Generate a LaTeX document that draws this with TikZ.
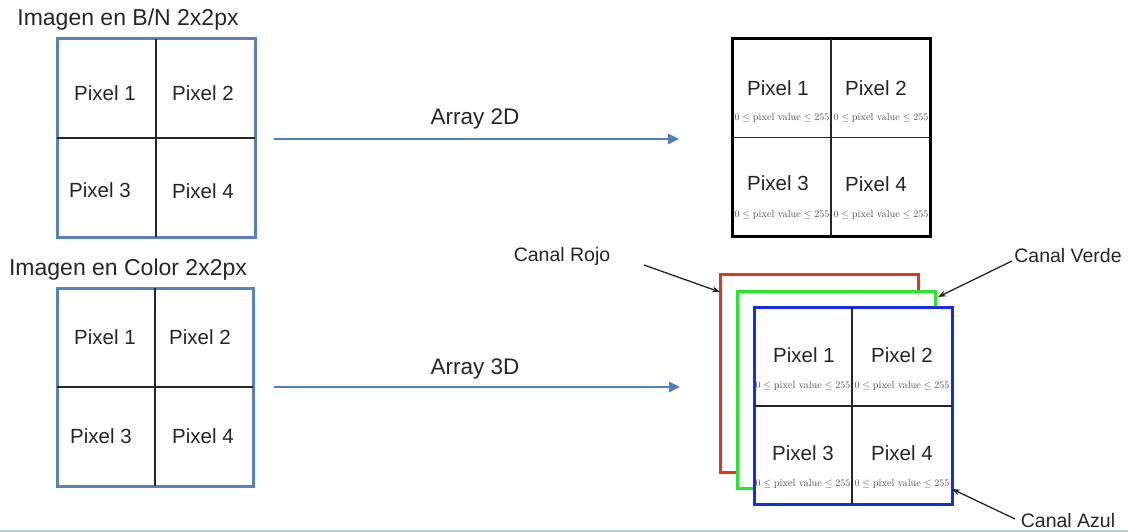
\documentclass[tikz,border=0pt]{standalone}
\usepackage{fontspec}
\newfontfamily\arial{Liberation Sans}
\usetikzlibrary{arrows.meta}

\definecolor{frameblue}{RGB}{92,128,186}
\definecolor{flowblue}{RGB}{82,124,188}
\definecolor{chred}{RGB}{232,52,30}
\definecolor{chgreen}{RGB}{40,230,40}
\definecolor{chblue}{RGB}{24,44,228}
\definecolor{rule}{RGB}{176,204,214}

\newcommand{\pixval}{$0\leq\mbox{pixel value}\leq255$}

\begin{document}
\begin{tikzpicture}[x=1pt,y=-1pt,
  grid/.style={draw, fill=white, inner sep=0pt, outer sep=0pt, line width=3pt},
  divider/.style={draw=black!85, line width=1.4pt},
  lbl/.style={font=\arial\fontsize{20.5}{24}\selectfont, text=black!85},
  ttl/.style={font=\arial\fontsize{23}{27}\selectfont, text=black!85},
  arrlbl/.style={font=\arial\fontsize{22.5}{27}\selectfont, text=black!85},
  chlbl/.style={font=\arial\fontsize{19.5}{23}\selectfont, text=black!85},
  val/.style={font=\fontsize{10.3}{12}\selectfont, text=black!70, inner sep=0pt},
  flow/.style={draw=flowblue, line width=2.6pt, -{Triangle[length=11pt,width=10pt]}},
  callout/.style={draw=black!85, line width=1.3pt, -{Stealth[length=8pt,width=6pt]}}]

\useasboundingbox (0,0) rectangle (1128,532);

% slide rule along the bottom
\coordinate (ruleL) at (0,531);
\coordinate (ruleR) at (1128,531);
\draw[draw=rule, line width=1.5pt] (ruleL) -- (ruleR);

% ---------- grayscale image ----------
\node[ttl] (bwtitle) at (128,20) {Imagen en B/N 2x2px};
\node[grid, draw=frameblue, minimum width=198pt, minimum height=198pt] (bw) at (156,138) {};
\draw[divider] (bw.north) -- (bw.south);
\draw[divider] (bw.west) -- (bw.east);
\node[lbl] (bw1) at (105,93) {Pixel 1};
\node[lbl] (bw2) at (203,93) {Pixel 2};
\node[lbl] (bw3) at (100,190) {Pixel 3};
\node[lbl] (bw4) at (203,191) {Pixel 4};

% ---------- colour image ----------
\node[ttl] (coltitle) at (128,270) {Imagen en Color 2x2px};
\node[grid, draw=frameblue, minimum width=196pt, minimum height=198pt] (col) at (155,387) {};
\draw[divider] (col.north) -- (col.south);
\draw[divider] (col.west) -- (col.east);
\node[lbl] (col1) at (105,337) {Pixel 1};
\node[lbl] (col2) at (200,337) {Pixel 2};
\node[lbl] (col3) at (101,436) {Pixel 3};
\node[lbl] (col4) at (203,436) {Pixel 4};

% ---------- 2D array ----------
\node[grid, draw=black, minimum width=198pt, minimum height=197pt] (arr) at (831,137.5) {};
\draw[divider] (arr.north) -- (arr.south);
\draw[divider] (arr.west) -- (arr.east);
\node[lbl] (arr1) at (778,88) {Pixel 1};
\node[lbl] (arr2) at (876,88) {Pixel 2};
\node[lbl] (arr3) at (778,183) {Pixel 3};
\node[lbl] (arr4) at (876,184) {Pixel 4};
\node[val] (arrv1) at (782,118) {\pixval};
\node[val] (arrv2) at (881,118) {\pixval};
\node[val] (arrv3) at (782,215) {\pixval};
\node[val] (arrv4) at (881,215) {\pixval};

% ---------- 3D array: three stacked channels ----------
\node[grid, draw=chred, minimum width=198pt, minimum height=198pt] (red) at (819,373) {};
\node[grid, draw=chgreen, minimum width=198pt, minimum height=197pt] (green) at (836,389.5) {};
\node[grid, draw=chblue, minimum width=198pt, minimum height=197pt] (blue) at (853,405.5) {};
\draw[divider] ([xshift=-1pt]blue.north) -- ([xshift=-1pt]blue.south);
\draw[divider] ([yshift=-0.5pt]blue.west) -- ([yshift=-0.5pt]blue.east);
\node[lbl] (blue1) at (804,355) {Pixel 1};
\node[lbl] (blue2) at (902,355) {Pixel 2};
\node[lbl] (blue3) at (803,453) {Pixel 3};
\node[lbl] (blue4) at (902,453) {Pixel 4};
\node[val] (bluev1) at (803,386) {\pixval};
\node[val] (bluev2) at (902,386) {\pixval};
\node[val] (bluev3) at (803,484) {\pixval};
\node[val] (bluev4) at (902,484) {\pixval};

% ---------- conversion arrows ----------
\node[arrlbl] (lab2d) at (475,119) {Array 2D};
\node[arrlbl] (lab3d) at (475,369) {Array 3D};
\draw[flow] ([xshift=19pt,yshift=-1pt]bw.east) -- ([xshift=-53pt,yshift=-1.5pt]arr.west);
\draw[flow] ([xshift=21pt]col.east) -- ([xshift=-40pt,yshift=-14pt]red.west);

% ---------- channel callouts ----------
\node[chlbl] (rojo) at (562,256) {Canal Rojo};
\node[chlbl] (verde) at (1068,256) {Canal Verde};
\node[chlbl] (azul) at (1068,521) {Canal Azul};
\coordinate (rojoTail) at (644,265);
\coordinate (verdeTail) at (1012,261);
\coordinate (azulTail) at (1015,519);
\draw[callout] (rojoTail) -- ([yshift=-18pt]red.north west);
\draw[callout] (verdeTail) -- ([xshift=3pt,yshift=-6pt]green.north east);
\draw[callout] (azulTail) -- ([yshift=15pt]blue.south east);

\end{tikzpicture}
\end{document}
